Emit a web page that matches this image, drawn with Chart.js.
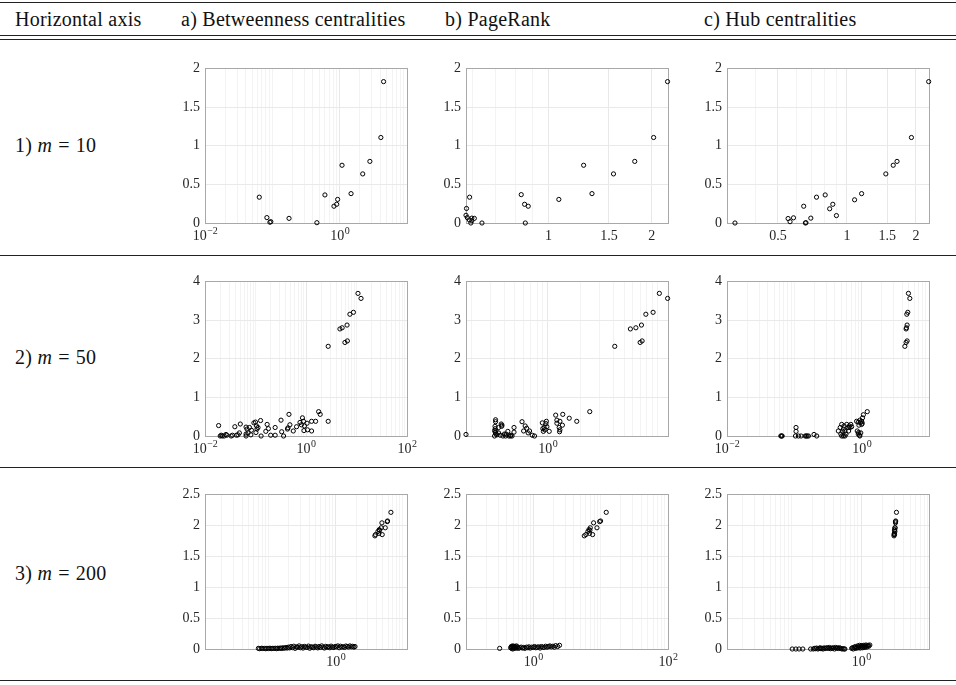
<!DOCTYPE html>
<html>
<head>
<meta charset="utf-8">
<script src="https://cdn.jsdelivr.net/npm/chart.js@4.4.0/dist/chart.umd.min.js"></script>
<style>
  body { margin: 0; background: #fff; width: 956px; height: 685px; position: relative; overflow: hidden;
         font-family: "Liberation Serif", serif; color: #111; }
  .rule { position: absolute; left: 0; width: 956px; height: 1px; background: #222; }
  .txt { position: absolute; font-size: 20px; line-height: 20px; letter-spacing: 0.25px; white-space: nowrap; }
  .eq { padding: 0 6px; }
  .plot { position: absolute; }
</style>
</head>
<body>
<div class="rule" style="top:2px"></div>
<div class="rule" style="top:35px"></div>
<div class="rule" style="top:39px"></div>
<div class="rule" style="top:255px"></div>
<div class="rule" style="top:467px"></div>
<div class="rule" style="top:680px"></div>

<div class="txt" style="left:15px;top:9px">Horizontal axis</div>
<div class="txt" style="left:181px;top:9px">a) Betweenness centralities</div>
<div class="txt" style="left:445px;top:9px">b) PageRank</div>
<div class="txt" style="left:704px;top:9px">c) Hub centralities</div>

<div class="txt" style="left:15px;top:135px">1) <i>m</i><span class="eq">=</span>10</div>
<div class="txt" style="left:15px;top:347px">2) <i>m</i><span class="eq">=</span>50</div>
<div class="txt" style="left:15px;top:563px">3) <i>m</i><span class="eq">=</span>200</div>

<div class="plot" id="p1a"><canvas id="c1a" width="256" height="196"></canvas></div>
<div class="plot" id="p1b"><canvas id="c1b" width="256" height="196"></canvas></div>
<div class="plot" id="p1c"><canvas id="c1c" width="256" height="196"></canvas></div>
<div class="plot" id="p2a"><canvas id="c2a" width="256" height="196"></canvas></div>
<div class="plot" id="p2b"><canvas id="c2b" width="256" height="196"></canvas></div>
<div class="plot" id="p2c"><canvas id="c2c" width="256" height="196"></canvas></div>
<div class="plot" id="p3a"><canvas id="c3a" width="256" height="196"></canvas></div>
<div class="plot" id="p3b"><canvas id="c3b" width="256" height="196"></canvas></div>
<div class="plot" id="p3c"><canvas id="c3c" width="256" height="196"></canvas></div>

<script>
// ---- m = 10 ----
const btw10X = [0.064, 0.083, 0.092, 0.095, 0.177, 0.459, 0.604, 0.822, 0.902, 0.933, 1.084, 1.476, 2.20, 2.81, 4.09, 4.49];
const btw10Y = [0.334, 0.07, 0.01, 0.017, 0.06, 0.004, 0.363, 0.217, 0.242, 0.305, 0.747, 0.38, 0.635, 0.797, 1.106, 1.829];

const pr10X = [0.577, 0.575, 0.580, 0.589, 0.588, 0.594, 0.598, 0.598, 0.608, 0.640, 0.833, 0.852, 0.873, 0.856, 1.072, 1.266, 1.339, 1.547, 1.784, 2.025, 2.223];
const pr10Y = [0.188, 0.10, 0.07, 0.334, 0.04, 0.0, 0.03, 0.063, 0.06, 0.0, 0.367, 0.242, 0.217, 0.0, 0.305, 0.747, 0.38, 0.635, 0.797, 1.106, 1.829];

const hub10X = [0.325, 0.554, 0.565, 0.585, 0.648, 0.659, 0.663, 0.696, 0.737, 0.804, 0.841, 0.868, 0.900, 1.080, 1.159, 1.478, 1.592, 1.654, 1.911, 2.273];
const hub10Y = [0, 0.058, 0.017, 0.067, 0.217, 0, 0.004, 0.063, 0.334, 0.363, 0.184, 0.242, 0.096, 0.30, 0.38, 0.635, 0.747, 0.797, 1.106, 1.829];

// ---- m = 50 ----
const btw50X = [10.7, 12.3, 8.7, 7.4, 6.5, 5.2, 4.7, 6.6, 5.9, 2.75,
  2.75, 1.78, 1.91, 1.55, 1.29, 1.29, 1.05, 0.93, 0.85, 0.89,
  0.81, 0.76, 0.91, 1.07, 0.65, 0.56, 0.46, 0.48, 0.44, 0.43,
  0.36, 0.32, 0.33, 0.245, 0.245, 0.20, 0.18, 0.17, 0.16, 0.129,
  0.126, 0.112, 0.107, 0.100, 0.105, 0.102, 0.093, 0.081, 0.083, 0.076,
  0.071, 0.068, 0.065, 0.065, 0.065, 0.050, 0.048, 0.045, 0.039, 0.042,
  0.035, 0.033, 0.027, 0.026, 0.024, 0.022, 0.020, 0.0186, 0.021];
const btw50Y = [3.69, 3.56, 3.20, 3.15, 2.87, 2.80, 2.77, 2.46, 2.42, 2.32,
  0.38, 0.63, 0.56, 0.38, 0.13, 0.38, 0.33, 0.26, 0.47, 0.38,
  0.29, 0.35, 0.14, 0.16, 0.24, 0.13, 0.56, 0.29, 0.21, 0.18,
  0.0, 0.41, 0.11, 0.22, 0.02, 0.02, 0.19, 0.30, 0.12, 0.0,
  0.40, 0.22, 0.18, 0.36, 0.26, 0.09, 0.34, 0.03, 0.15, 0.22,
  0.08, 0.18, 0.23, 0.05, 0.0, 0.31, 0.08, 0.03, 0.24, 0.02,
  0.02, 0.0, 0.02, 0.04, 0.0, 0.0, 0.0, 0.27, 0.02];

const pr50X = [10.5, 12.5, 9.2, 7.9, 7.2, 6.4, 5.7, 7.3, 7.0, 4.1,
  0.178, 2.42, 1.84, 1.57, 1.37, 1.18, 1.29, 1.36, 1.21, 1.27,
  1.29, 1.28, 1.21, 1.03, 0.97, 0.96, 0.925, 0.94, 0.89, 0.90,
  0.91, 0.98, 0.755, 0.72, 0.68, 0.66, 0.64, 0.62, 0.58, 0.60,
  0.49, 0.49, 0.46, 0.455, 0.43, 0.415, 0.40, 0.377, 0.374, 0.366,
  0.354, 0.342, 0.335, 0.332, 0.332, 0.335, 0.325, 0.328, 0.33, 0.33,
  0.325, 0.354, 0.388, 0.41, 0.44, 0.47, 0.38];
const pr50Y = [3.69, 3.56, 3.20, 3.15, 2.87, 2.80, 2.77, 2.46, 2.42, 2.32,
  0.04, 0.63, 0.38, 0.46, 0.56, 0.54, 0.38, 0.28, 0.41, 0.22,
  0.16, 0.11, 0.33, 0.12, 0.38, 0.32, 0.22, 0.16, 0.34, 0.19,
  0.12, 0.24, 0, 0.02, 0.13, 0.08, 0.20, 0.26, 0.37, 0.13,
  0.22, 0.10, 0.02, 0, 0.12, 0.05, 0.05, 0.25, 0.31, 0.02,
  0.08, 0.03, 0.13, 0.37, 0.42, 0.05, 0, 0.25, 0.19, 0.09,
  0.14, 0.22, 0, 0, 0, 0, 0.28];

const hub50X = [4.95, 5.19, 4.84, 4.68, 4.73, 4.62, 4.57, 4.73, 4.57, 4.38,
  0.063, 0.0646, 0.066, 0.106, 0.106, 0.104, 0.115, 0.126, 0.145, 0.15,
  0.155, 0.162, 0.196, 0.215, 0.45, 0.48, 0.505, 0.49, 0.505, 0.52,
  0.535, 0.547, 0.565, 0.585, 0.60, 0.63, 0.64, 0.655, 0.67, 0.69,
  0.71, 0.535, 0.565, 0.84, 0.89, 0.94, 1.0, 1.03, 1.06, 1.21,
  0.86, 0.89, 0.94, 0.96, 0.91, 0.90, 0.93, 0.97, 1.0, 1.02];
const hub50Y = [3.69, 3.56, 3.20, 3.15, 2.87, 2.80, 2.77, 2.46, 2.42, 2.32,
  0, 0, 0, 0.22, 0.12, 0, 0, 0, 0, 0,
  0, 0, 0.04, 0, 0.13, 0.22, 0.30, 0.05, 0, 0.12,
  0.18, 0.26, 0.13, 0.05, 0.30, 0.22, 0.13, 0.26, 0.22, 0.30,
  0.24, 0, 0, 0.38, 0.36, 0.41, 0.38, 0.47, 0.55, 0.63,
  0.13, 0.05, 0, 0.35, 0.28, 0.09, 0.02, 0.08, 0.30, 0.33];

// ---- m = 200 ----
const btw200X = [6.62, 5.90, 5.83, 5.45, 4.86, 4.91, 4.74, 4.43, 4.24, 4.39, 3.90, 3.82, 4.48,
  0.070, 0.073, 0.078, 0.081, 0.086, 0.090, 0.094, 0.099, 0.104, 0.109,
  0.113, 0.119, 0.125, 0.131, 0.136, 0.143, 0.150, 0.156, 0.163, 0.171,
  0.180, 0.188, 0.196, 0.205, 0.214, 0.226, 0.236, 0.247, 0.259, 0.270,
  0.283, 0.296, 0.310, 0.324, 0.340, 0.355, 0.372, 0.390, 0.408, 0.427,
  0.447, 0.468, 0.490, 0.512, 0.537, 0.562, 0.588, 0.616, 0.645, 0.675,
  0.707, 0.740, 0.775, 0.812, 0.850, 0.890, 0.932, 0.975, 1.02, 1.07,
  1.12, 1.17, 1.23, 1.29, 1.35, 1.41, 1.48, 1.55, 1.62, 1.70,
  1.78, 1.86, 1.93];
const btw200Y = [2.21, 2.07, 2.06, 1.96, 2.04, 1.85, 1.96, 1.93, 1.90, 1.87, 1.85, 1.83, 1.92,
  0.01, 0.005, 0.012, 0.008, 0.01, 0.004, 0.011, 0.007, 0.013, 0.006,
  0.01, 0.009, 0.012, 0.005, 0.014, 0.01, 0.016, 0.008, 0.02, 0.012,
  0.025, 0.015, 0.03, 0.018, 0.04, 0.022, 0.045, 0.01, 0.035, 0.028,
  0.05, 0.02, 0.038, 0.015, 0.042, 0.03, 0.026, 0.047, 0.012, 0.036,
  0.03, 0.02, 0.044, 0.033, 0.018, 0.04, 0.025, 0.05, 0.03, 0.016,
  0.043, 0.028, 0.037, 0.02, 0.046, 0.03, 0.024, 0.04, 0.035, 0.05,
  0.02, 0.045, 0.03, 0.038, 0.025, 0.048, 0.04, 0.032, 0.05, 0.036,
  0.044, 0.03, 0.04];

const pr200X = [12.1, 9.98, 9.64, 8.81, 7.85, 7.59, 7.01, 6.70, 6.47, 6.84, 6.04, 5.71, 6.92,
  0.316,
  0.46, 0.47, 0.475, 0.48, 0.49, 0.495, 0.50, 0.51, 0.515, 0.52, 0.53, 0.54, 0.55, 0.56, 0.57, 0.58,
  0.60, 0.63, 0.66, 0.69, 0.72, 0.75, 0.79, 0.83, 0.86, 0.9,
  0.95, 1.0, 1.04, 1.09, 1.14, 1.2, 1.26, 1.32, 1.38, 1.45,
  1.52, 1.6, 1.68, 1.76, 1.85, 1.95, 2.05, 2.15, 2.3, 2.45];
const pr200Y = [2.21, 2.07, 2.06, 1.96, 2.04, 1.85, 1.96, 1.93, 1.90, 1.87, 1.85, 1.83, 1.92,
  0.01,
  0.02, 0.04, 0.01, 0.03, 0.05, 0.0, 0.035, 0.015, 0.045, 0.025, 0.04, 0.01, 0.03, 0.05, 0.02, 0.035,
  0.01, 0.02, 0.03, 0.015, 0.025, 0.01, 0.03, 0.02, 0.035, 0.015,
  0.03, 0.025, 0.04, 0.02, 0.03, 0.035, 0.015, 0.04, 0.03, 0.025,
  0.045, 0.03, 0.04, 0.05, 0.035, 0.045, 0.03, 0.055, 0.04, 0.06];

const hub200X = [3.20, 3.12, 3.10, 3.06, 3.10, 3.00, 3.04, 3.02, 3.04, 2.98, 2.96, 2.95, 3.00,
  0.103, 0.116, 0.129, 0.146, 0.189,
  0.206, 0.215, 0.222, 0.23, 0.24, 0.25, 0.258, 0.266, 0.275, 0.285,
  0.295, 0.305, 0.316, 0.327, 0.338, 0.35, 0.362, 0.375, 0.388, 0.40,
  0.415, 0.43, 0.445, 0.46, 0.475, 0.49, 0.51, 0.53, 0.55, 0.57, 0.585,
  0.73, 0.75, 0.77, 0.79, 0.81, 0.83, 0.85, 0.87, 0.89, 0.91,
  0.93, 0.95, 0.97, 0.99, 1.01, 1.03, 1.05, 1.07, 1.09, 1.11,
  1.13, 1.15, 1.17, 1.2, 1.23, 1.26, 1.29, 1.33];
const hub200Y = [2.21, 2.07, 2.06, 1.96, 2.04, 1.85, 1.96, 1.93, 1.90, 1.87, 1.85, 1.83, 1.92,
  0, 0, 0, 0, 0,
  0, 0.01, 0.005, 0.015, 0.0, 0.01, 0.02, 0.005, 0.012, 0.0,
  0.018, 0.008, 0.015, 0.02, 0.01, 0.025, 0.005, 0.015, 0.01, 0.02,
  0.0, 0.025, 0.012, 0.018, 0.008, 0.02, 0.01, 0.0, 0.005, 0.0, 0.0,
  0.01, 0.02, 0.0, 0.03, 0.015, 0.04, 0.01, 0.025, 0.05, 0.02,
  0.035, 0.06, 0.015, 0.045, 0.03, 0.055, 0.02, 0.04, 0.06, 0.025,
  0.05, 0.035, 0.065, 0.03, 0.05, 0.06, 0.045, 0.065];

// labelled x ticks of each panel
const btw10Ticks = [0.01, 1];
const pr10Ticks = [1, 1.5, 2];
const hub10Ticks = [0.5, 1, 1.5, 2];
const btw50Ticks = [0.01, 1, 100];
const pr50Ticks = [1];
const hub50Ticks = [0.01, 1];
const btw200Ticks = [1];
const pr200Ticks = [1, 100];
const hub200Ticks = [1];

const panels = [
  { id: '1a', left: 205, top: 63,  xs: btw10X,  ys: btw10Y,  xMin: 0.01,   xMax: 10,    ticks: btw10Ticks,  pow: true,  yMax: 2,   yStep: 0.5 },
  { id: '1b', left: 466, top: 63,  xs: pr10X,   ys: pr10Y,   xMin: 0.575,  xMax: 2.23,  ticks: pr10Ticks,   pow: false, yMax: 2,   yStep: 0.5 },
  { id: '1c', left: 727, top: 63,  xs: hub10X,  ys: hub10Y,  xMin: 0.322,  xMax: 2.28,  ticks: hub10Ticks,  pow: false, yMax: 2,   yStep: 0.5 },
  { id: '2a', left: 205, top: 276, xs: btw50X,  ys: btw50Y,  xMin: 0.01,   xMax: 100,   ticks: btw50Ticks,  pow: true,  yMax: 4,   yStep: 1 },
  { id: '2b', left: 466, top: 276, xs: pr50X,   ys: pr50Y,   xMin: 0.178,  xMax: 12.6,  ticks: pr50Ticks,   pow: true,  yMax: 4,   yStep: 1 },
  { id: '2c', left: 727, top: 276, xs: hub50X,  ys: hub50Y,  xMin: 0.01,   xMax: 10,    ticks: hub50Ticks,  pow: true,  yMax: 4,   yStep: 1 },
  { id: '3a', left: 205, top: 489, xs: btw200X, ys: btw200Y, xMin: 0.0112, xMax: 11.5,  ticks: btw200Ticks, pow: true,  yMax: 2.5, yStep: 0.5 },
  { id: '3b', left: 466, top: 489, xs: pr200X,  ys: pr200Y,  xMin: 0.1,    xMax: 100,   ticks: pr200Ticks,  pow: true,  yMax: 2.5, yStep: 0.5 },
  { id: '3c', left: 727, top: 489, xs: hub200X, ys: hub200Y, xMin: 0.012,  xMax: 9.35,  ticks: hub200Ticks, pow: true,  yMax: 2.5, yStep: 0.5 },
];

const FAMILY = '"Liberation Serif", "DejaVu Serif", serif';
const tickFont = { family: FAMILY, size: 14 };
const LABEL_COLOR = '#262626';

const near = (a, b) => Math.abs(a - b) / b < 1e-6;

// all grid positions of a log axis, plus the labelled ones
function gridValues(min, max, labelled) {
  const out = [];
  for (let k = Math.floor(Math.log10(min)); k <= Math.ceil(Math.log10(max)); k++) {
    for (let d = 1; d <= 9; d++) {
      const v = d * Math.pow(10, k);
      if (v >= min * 0.999 && v <= max * 1.001) out.push(v);
    }
  }
  labelled.forEach(v => { if (!out.some(o => near(o, v))) out.push(v); });
  return out.sort((a, b) => a - b);
}

// matlab-like box round the axes
const frame = {
  id: 'frame',
  beforeDatasetsDraw(chart) {
    const { ctx, chartArea: a } = chart;
    ctx.save();
    ctx.strokeStyle = '#a8a8a8';
    ctx.lineWidth = 1;
    ctx.strokeRect(Math.round(a.left) + 0.5, Math.round(a.top) + 0.5,
      Math.round(a.right - a.left), Math.round(a.bottom - a.top));
    ctx.restore();
  }
};

// "10" with a raised exponent for the power tick labels
const powerLabels = {
  id: 'powerLabels',
  afterDraw(chart, args, opts) {
    if (!opts.values) return;
    const { ctx, chartArea: a } = chart;
    const sx = chart.scales.x;
    ctx.save();
    ctx.fillStyle = LABEL_COLOR;
    ctx.textBaseline = 'alphabetic';
    opts.values.forEach(v => {
      const e = Math.round(Math.log10(v));
      const expo = e < 0 ? '\u2212' + (-e) : String(e);
      ctx.font = '14px ' + FAMILY;
      const w1 = ctx.measureText('10').width;
      ctx.font = '10px ' + FAMILY;
      const w2 = ctx.measureText(expo).width;
      const x0 = sx.getPixelForValue(v) - (w1 + w2) / 2;
      const base = a.bottom + 17;
      ctx.font = '14px ' + FAMILY;
      ctx.fillText('10', x0, base);
      ctx.font = '10px ' + FAMILY;
      ctx.fillText(expo, x0 + w1 + 0.5, base - 6);
    });
    ctx.restore();
  }
};

panels.forEach(p => {
  const box = document.getElementById('p' + p.id);
  box.style.left = (p.left - 40) + 'px';
  box.style.top = (p.top - 8) + 'px';

  const isMajor = v => p.ticks.some(t => near(v, t));

  new Chart(document.getElementById('c' + p.id), {
    type: 'scatter',
    data: {
      datasets: [{
        data: p.xs.map((x, i) => ({ x, y: p.ys[i] })),
        pointRadius: 2.1,
        pointHoverRadius: 2.1,
        pointBorderWidth: 1,
        borderColor: '#000',
        backgroundColor: 'rgba(0,0,0,0)',
        clip: false,
      }],
    },
    options: {
      responsive: false,
      animation: false,
      events: [],
      layout: { padding: { top: 8, right: 14, left: 0, bottom: 0 } },
      plugins: {
        legend: { display: false },
        tooltip: { enabled: false },
        powerLabels: { values: p.pow ? p.ticks : null },
      },
      scales: {
        x: {
          type: 'logarithmic',
          min: p.xMin,
          max: p.xMax,
          border: { display: false },
          afterBuildTicks: s => { s.ticks = gridValues(p.xMin, p.xMax, p.ticks).map(v => ({ value: v })); },
          afterFit: s => { s.height = 28; },
          grid: {
            drawTicks: false,
            color: c => (c.tick && isMajor(c.tick.value)) ? '#e8e8e8' : '#f3f3f3',
          },
          ticks: {
            autoSkip: false,
            maxRotation: 0,
            padding: 5,
            color: LABEL_COLOR,
            font: tickFont,
            callback: v => (!p.pow && isMajor(v)) ? String(+v.toFixed(2)) : '',
          },
        },
        y: {
          min: 0,
          max: p.yMax,
          border: { display: false },
          afterFit: s => { s.width = 40; },
          grid: { drawTicks: false, color: '#e9e9e9' },
          ticks: { stepSize: p.yStep, padding: 5, color: LABEL_COLOR, font: tickFont,
                   callback: v => String(+v.toFixed(2)) },
        },
      },
    },
    plugins: [frame, powerLabels],
  });
});
</script>
</body>
</html>
